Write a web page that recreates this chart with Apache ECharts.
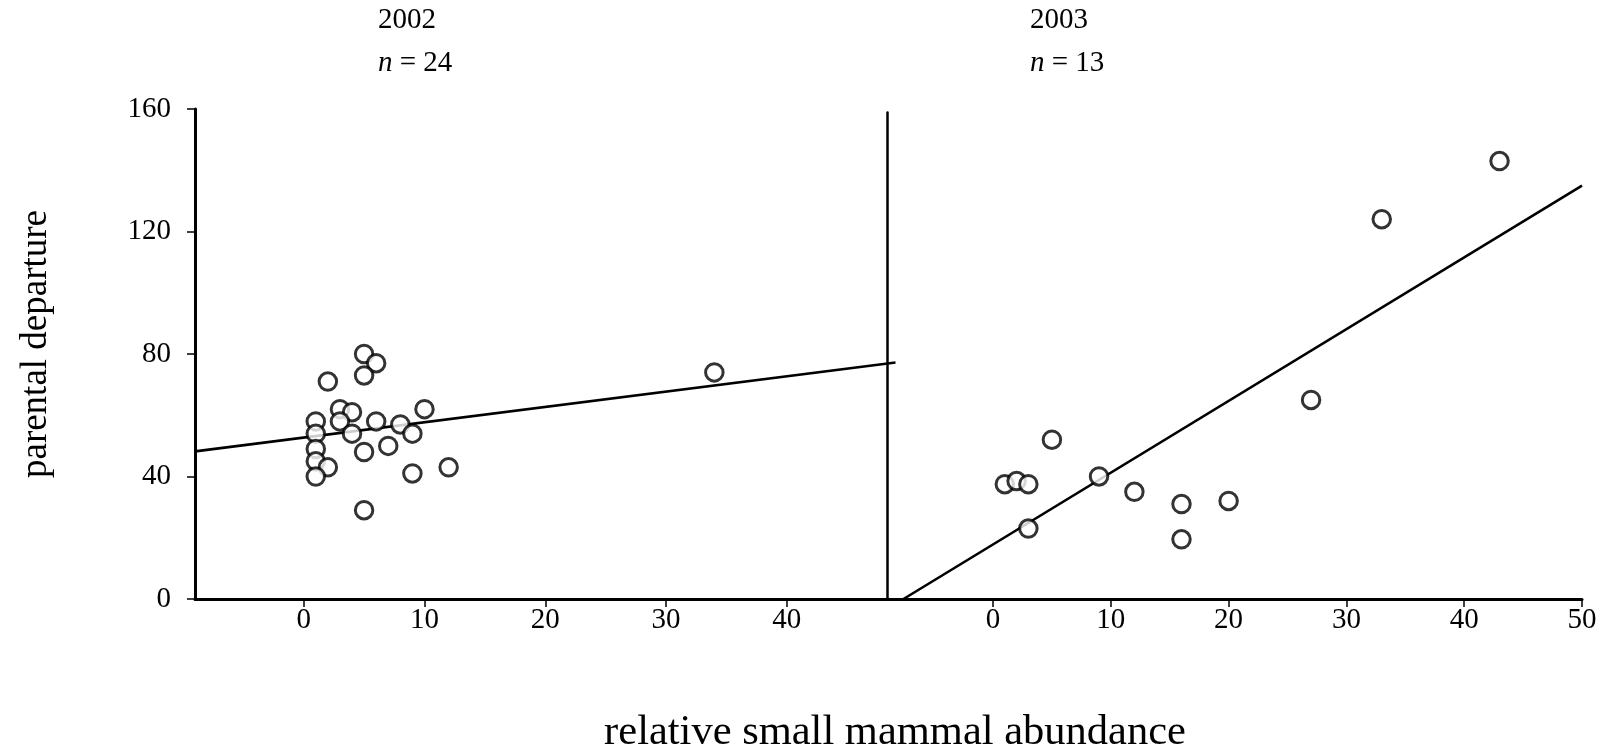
<!DOCTYPE html>
<html>
<head>
<meta charset="utf-8">
<script src="https://cdn.jsdelivr.net/npm/echarts@6/dist/echarts.min.js"></script>
<style>
html,body{margin:0;padding:0;background:#fff;}
#chart{width:1602px;height:749px;}
</style>
</head>
<body>
<div id="chart"></div>
<script>
// ---- data ----
const points2002 = [
  [5,80],[6,77],[2,71],[5,73],[3,62],[4,61],[10,62],[1,58],[3,58],[6,58],
  [8,57],[1,54],[4,54],[9,54],[7,50],[1,49],[5,48],[1,45],[2,43],[12,43],
  [1,40],[9,41],[5,29],[34,74]
];
const points2003 = [
  [5,52],[1,37.5],[2,38.5],[3,37.5],[9,40],[12,35],[16,31],[20,32],[3,23],
  [16,19.5],[43,143],[33,124],[27,65]
];
const fit2002 = [[-9,48.2],[49,77.2]];
const fit2003 = [[-7.6,0],[50,135]];
const yTicks = [0,40,80,120,160];
const xTicks2002 = [0,10,20,30,40];
const xTicks2003 = [0,10,20,30,40,50];
const panelTitles = [
  {year:'2002', n:'24'},
  {year:'2003', n:'13'}
];

const FONT = '"Liberation Serif","Times New Roman",serif';
const chart = echarts.init(document.getElementById('chart'), null, {renderer:'canvas'});

const axisLineStyle = {color:'#000', width:3};
const markerStyle = {color:'#fff', borderColor:'#000', borderWidth:3};
const tickFont = {color:'#000', fontFamily:FONT, fontSize:29};

const option = {
  animation:false,
  backgroundColor:'#fff',
  grid:[
    {left:195, top:109, width:700.5, height:490},
    {left:887, top:112.6, width:695, height:486.4}
  ],
  xAxis:[
    {gridIndex:0, type:'value', min:-9, max:49,
     axisLine:{show:true, onZero:false, lineStyle:axisLineStyle},
     axisTick:{show:true, length:8, customValues:xTicks2002, lineStyle:{color:'#000', width:1.5}},
     axisLabel:Object.assign({customValues:xTicks2002, margin:7}, tickFont),
     splitLine:{show:false}},
    {gridIndex:1, type:'value', min:-9, max:50,
     axisLine:{show:true, onZero:false, lineStyle:axisLineStyle},
     axisTick:{show:true, length:8, customValues:xTicks2003, lineStyle:{color:'#000', width:1.5}},
     axisLabel:Object.assign({customValues:xTicks2003, margin:7}, tickFont),
     splitLine:{show:false}}
  ],
  yAxis:[
    {gridIndex:0, type:'value', min:0, max:160,
     axisLine:{show:true, onZero:false, lineStyle:axisLineStyle},
     axisTick:{show:true, length:8, customValues:yTicks, lineStyle:{color:'#000', width:1.5}},
     axisLabel:Object.assign({customValues:yTicks, margin:24}, tickFont),
     splitLine:{show:false}},
    {gridIndex:1, type:'value', min:0, max:158.82,
     axisLine:{show:true, onZero:false, lineStyle:{color:'#000', width:2.5}},
     axisTick:{show:false},
     axisLabel:{show:false},
     splitLine:{show:false}}
  ],
  graphic:[
    {type:'text', left:378, top:6, style:{text:panelTitles[0].year, font:'29px '+FONT, fill:'#000'}},
    {type:'text', left:378, top:49, style:{
      text:'{i|n} = '+panelTitles[0].n,
      rich:{i:{fontStyle:'italic', fontFamily:FONT, fontSize:29}},
      font:'29px '+FONT, fill:'#000'}},
    {type:'text', left:1030, top:6, style:{text:panelTitles[1].year, font:'29px '+FONT, fill:'#000'}},
    {type:'text', left:1030, top:49, style:{
      text:'{i|n} = '+panelTitles[1].n,
      rich:{i:{fontStyle:'italic', fontFamily:FONT, fontSize:29}},
      font:'29px '+FONT, fill:'#000'}},
    {type:'text', x:36, y:344, rotation:Math.PI/2, style:{
      text:'parental departure', font:'37px '+FONT, fill:'#000', align:'center', verticalAlign:'middle'}},
    {type:'text', x:895, y:733, style:{
      text:'relative small mammal abundance', font:'42.5px '+FONT, fill:'#000', align:'center', verticalAlign:'middle'}}
  ],
  series:[
    {type:'line', xAxisIndex:0, yAxisIndex:0, data:fit2002, symbol:'none', clip:false,
     lineStyle:{color:'#000', width:2.6}, z:2},
    {type:'line', xAxisIndex:1, yAxisIndex:1, data:fit2003, symbol:'none', clip:false,
     lineStyle:{color:'#000', width:2.6}, z:2},
    {type:'scatter', xAxisIndex:0, yAxisIndex:0, data:points2002, symbol:'circle', symbolSize:17.5,
     itemStyle:markerStyle, z:3},
    {type:'scatter', xAxisIndex:1, yAxisIndex:1, data:points2003, symbol:'circle', symbolSize:17.5,
     itemStyle:markerStyle, z:3}
  ]
};
chart.setOption(option);
</script>
</body>
</html>
